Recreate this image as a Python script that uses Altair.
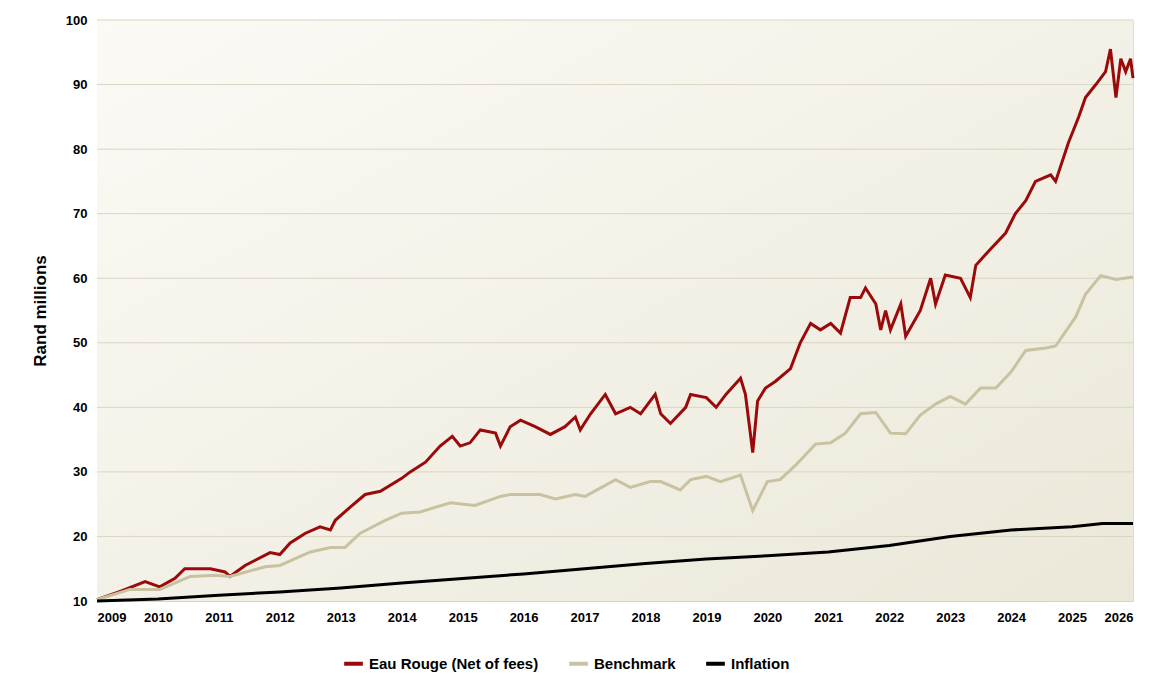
import altair as alt
import pandas as pd

# values, decimal years
eau_years = [2009.0, 2009.38, 2009.79, 2010.03, 2010.28, 2010.44, 2010.86, 2011.1, 2011.18, 2011.43,
             2011.84, 2012.0, 2012.17, 2012.42, 2012.66, 2012.83, 2012.91, 2013.15, 2013.4, 2013.65,
             2014.0, 2014.14, 2014.39, 2014.63, 2014.83, 2014.96, 2015.12, 2015.29, 2015.54, 2015.62,
             2015.78, 2015.95, 2016.19, 2016.44, 2016.68, 2016.85, 2016.93, 2017.1, 2017.34, 2017.51,
             2017.75, 2017.92, 2018.16, 2018.25, 2018.41, 2018.66, 2018.74, 2019.0, 2019.16, 2019.32,
             2019.56, 2019.64, 2019.76, 2019.84, 2019.97, 2020.13, 2020.38, 2020.54, 2020.71, 2020.87,
             2021.04, 2021.2, 2021.36, 2021.53, 2021.61, 2021.78, 2021.86, 2021.94, 2022.02, 2022.19,
             2022.27, 2022.51, 2022.68, 2022.76, 2022.92, 2023.17, 2023.33, 2023.42, 2023.66, 2023.91,
             2024.07, 2024.24, 2024.4, 2024.65, 2024.73, 2024.94, 2025.11, 2025.22, 2025.39, 2025.55,
             2025.63, 2025.72, 2025.8, 2025.88, 2025.96, 2026.0]
eau_values = [10.2, 11.5, 13.0, 12.2, 13.5, 15.0, 15.0, 14.5, 13.8, 15.5,
              17.5, 17.2, 19.0, 20.5, 21.5, 21.0, 22.5, 24.5, 26.5, 27.0,
              29.0, 30.0, 31.5, 34.0, 35.5, 34.0, 34.5, 36.5, 36.0, 34.0,
              37.0, 38.0, 37.0, 35.8, 37.0, 38.5, 36.5, 39.0, 42.0, 39.0,
              40.0, 39.0, 42.0, 39.0, 37.5, 40.0, 42.0, 41.5, 40.0, 42.0,
              44.5, 42.0, 33.0, 41.0, 43.0, 44.0, 46.0, 50.0, 53.0, 52.0,
              53.0, 51.5, 57.0, 57.0, 58.5, 56.0, 52.0, 55.0, 52.0, 56.0,
              51.0, 55.0, 60.0, 56.0, 60.5, 60.0, 57.0, 62.0, 64.5, 67.0,
              70.0, 72.0, 75.0, 76.0, 75.0, 81.0, 85.0, 88.0, 90.0, 92.0,
              95.5, 88.0, 94.0, 92.0, 94.0, 91.0]

bench_years = [2009.0, 2009.54, 2010.03, 2010.53, 2010.94, 2011.18, 2011.76, 2012.0, 2012.5, 2012.83,
               2013.07, 2013.32, 2013.73, 2014.0, 2014.3, 2014.8, 2015.2, 2015.62, 2015.78, 2016.27,
               2016.52, 2016.85, 2017.01, 2017.51, 2017.75, 2018.08, 2018.25, 2018.57, 2018.74, 2019.0,
               2019.23, 2019.56, 2019.76, 2020.0, 2020.21, 2020.46, 2020.79, 2021.04, 2021.28, 2021.53,
               2021.78, 2022.02, 2022.27, 2022.51, 2022.76, 2023.0, 2023.25, 2023.5, 2023.75, 2024.0,
               2024.24, 2024.57, 2024.73, 2025.06, 2025.22, 2025.47, 2025.72, 2026.0]
bench_values = [10.2, 11.8, 11.8, 13.8, 14.0, 13.8, 15.3, 15.5, 17.6, 18.3,
                18.3, 20.5, 22.5, 23.6, 23.8, 25.2, 24.8, 26.2, 26.5, 26.5,
                25.8, 26.5, 26.2, 28.8, 27.6, 28.5, 28.5, 27.2, 28.8, 29.3,
                28.5, 29.5, 24.0, 28.5, 28.8, 31.0, 34.3, 34.5, 36.0, 39.0,
                39.2, 36.0, 35.9, 38.8, 40.5, 41.7, 40.5, 43.0, 43.0, 45.5,
                48.8, 49.2, 49.5, 54.0, 57.5, 60.4, 59.8, 60.2]

infl_years = [2009.0, 2010.0, 2011.0, 2012.0, 2013.0, 2014.0, 2015.0, 2016.0, 2017.0, 2018.0,
              2019.0, 2020.0, 2021.0, 2022.0, 2023.0, 2024.0, 2025.0, 2025.5, 2026.0]
infl_values = [10.0, 10.3, 10.9, 11.4, 12.0, 12.8, 13.5, 14.2, 15.0, 15.8,
               16.5, 17.0, 17.6, 18.6, 20.0, 21.0, 21.5, 22.0, 22.0]

y_ticks = list(range(10, 101, 10))
x_ticks = list(range(2009, 2027))

series = ["Eau Rouge (Net of fees)", "Benchmark", "Inflation"]
colors = ["#9b0a0a", "#c8c2a0", "#000000"]

df = pd.concat([
    pd.DataFrame({"year": eau_years, "value": eau_values, "series": series[0]}),
    pd.DataFrame({"year": bench_years, "value": bench_values, "series": series[1]}),
    pd.DataFrame({"year": infl_years, "value": infl_values, "series": series[2]}),
])

font = "Liberation Sans"
y_scale = alt.Scale(domain=[10, 100], nice=False, zero=False)

bg = alt.Chart(pd.DataFrame({"a": [0]})).mark_rect(
    color=alt.Gradient(gradient="linear", x1=0, y1=0, x2=1, y2=1,
                       stops=[alt.GradientStop(offset=0, color="#fbfaf5"),
                              alt.GradientStop(offset=1, color="#ebe8d9")])
).encode(x=alt.value(0), x2=alt.value(1036), y=alt.value(0), y2=alt.value(581))

grid = alt.Chart(pd.DataFrame({"v": y_ticks[1:]})).mark_rule(color="#d9d5c2", strokeWidth=1).encode(
    y=alt.Y("v:Q", scale=y_scale)
)

lines = alt.Chart(df).mark_line(strokeWidth=3, interpolate="linear").encode(
    x=alt.X("year:Q", scale=alt.Scale(domain=[2009, 2026], nice=False, zero=False),
            axis=alt.Axis(values=x_ticks, format="d", title=None, grid=False,
                          labelFontSize=13, labelFontWeight="bold", labelPadding=10,
                          labelFlush=True, domainColor="#d8d4c0", ticks=False)),
    y=alt.Y("value:Q", scale=y_scale,
            axis=alt.Axis(values=y_ticks, title="Rand millions", grid=False,
                          titleFontSize=17, titleFontWeight="bold", titlePadding=16,
                          labelFontSize=13, labelFontWeight="bold", labelPadding=10,
                          domain=False, ticks=False)),
    color=alt.Color("series:N", scale=alt.Scale(domain=series, range=colors),
                    legend=alt.Legend(orient="none", legendX=245, legendY=632, direction="horizontal",
                                      title=None, symbolType="stroke", labelLimit=0,
                                      symbolStrokeWidth=4, symbolSize=350, labelFontSize=15,
                                      labelFontWeight="bold", columnPadding=22)),
    detail="series:N",
    order=alt.Order("year:Q"),
)

chart = alt.layer(bg, grid, lines).properties(
    width=1036, height=581,
    autosize=alt.AutoSizeParams(type="none"),
    padding={"left": 89, "top": 12, "right": 9, "bottom": 80},
).configure_view(stroke=None).configure(font=font)

chart.save("out.html", embed_options={"renderer": "svg", "actions": False})
